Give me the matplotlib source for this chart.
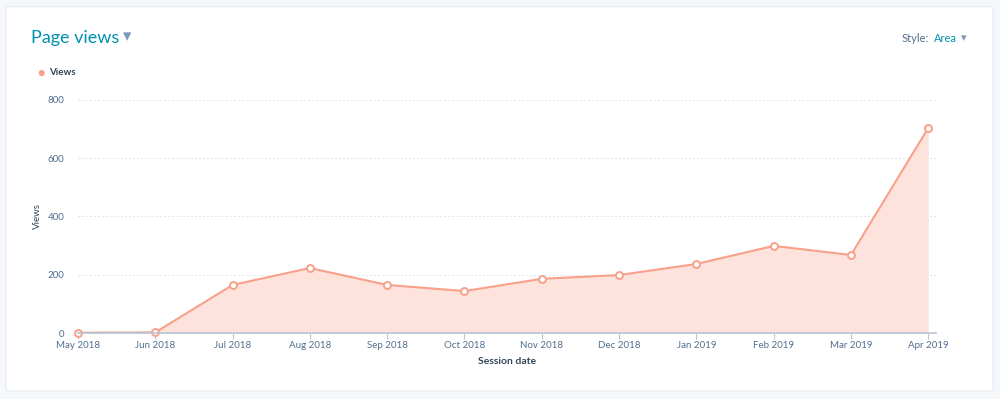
import matplotlib
matplotlib.use("Agg")
import matplotlib.pyplot as plt
from matplotlib.patches import FancyBboxPatch

plt.rcParams['font.family'] = ['Lato', 'DejaVu Sans']

# data
months = ["May 2018", "Jun 2018", "Jul 2018", "Aug 2018", "Sep 2018", "Oct 2018",
          "Nov 2018", "Dec 2018", "Jan 2019", "Feb 2019", "Mar 2019", "Apr 2019"]
views = [1, 2, 165, 223, 165, 144, 186, 199, 237, 299, 268, 704]
y_ticks = [0, 200, 400, 600, 800]

line_col = "#f8a08a"
fill_col = "#fde3dc"
text_col = "#516f90"
dark_col = "#33475b"
teal = "#0091ae"

fig = plt.figure(figsize=(10, 3.99), dpi=100)
fig.patch.set_facecolor("#f5f8fa")

# white card
card = FancyBboxPatch((0.006, 0.02), 0.987, 0.963, boxstyle="round,pad=0,rounding_size=0.004",
                      transform=fig.transFigure, facecolor="white", edgecolor="#e5ebf1",
                      linewidth=0.8, zorder=-5)
fig.patches.append(card)

ax = fig.add_axes([0.078, 0.1654, 0.858, 0.584])
ax.set_zorder(2)
ax.patch.set_alpha(0)
x = list(range(len(months)))
ax.fill_between(x, views, 0, color=fill_col, linewidth=0, zorder=1)
ax.plot(x, views, color=line_col, linewidth=1.5, zorder=2)
ax.plot(x, views, linestyle="none", marker="o", markersize=5, markerfacecolor="white",
        markeredgecolor=line_col, markeredgewidth=1.4, zorder=3, clip_on=False)

ax.set_xlim(0, len(months) - 1 + 0.1)
ax.set_ylim(0, 800)
ax.set_yticks(y_ticks)
ax.set_yticklabels([str(v) for v in y_ticks])
ax.set_xticks(x)
ax.set_xticklabels(months)

ax.grid(axis="y", color="#dfe3eb", linestyle=(0, (2, 2)), linewidth=0.7, zorder=0)
ax.set_axisbelow(True)
for s in ["top", "right", "left"]:
    ax.spines[s].set_visible(False)
ax.spines["bottom"].set_color("#b7c5d6")
ax.spines["bottom"].set_linewidth(1.2)
ax.spines["bottom"].set_zorder(4)

ax.tick_params(axis="y", length=0, pad=10, labelsize=7, labelcolor=text_col)
ax.tick_params(axis="x", length=4, width=0.8, color="#b7c5d6", pad=2, labelsize=7,
               labelcolor=text_col)

ax.set_xlabel("Session date", fontsize=7.5, fontweight="bold", color=dark_col, labelpad=5)
ax.set_ylabel("Views", fontsize=7, color=dark_col, labelpad=4)

# header texts
fig.text(0.031, 0.905, "Page views", fontsize=13, color=teal, va="center", ha="left")
fig.text(0.123, 0.91, "\u25BE", fontsize=12, color="#7c98b6", va="center", ha="left")
fig.text(0.902, 0.903, "Style:", fontsize=8, color=text_col, va="center", ha="left")
fig.text(0.934, 0.903, "Area", fontsize=8, color=teal, va="center", ha="left")
fig.text(0.961, 0.905, "\u25BE", fontsize=8, color="#7c98b6", va="center", ha="left")

# legend
fig.text(0.041, 0.818, "\u25CF", fontsize=9, color=line_col, va="center", ha="center")
fig.text(0.049, 0.818, "Views", fontsize=7, fontweight="bold", color=dark_col, va="center", ha="left")

fig.savefig("out.png", dpi=100, facecolor=fig.get_facecolor())
